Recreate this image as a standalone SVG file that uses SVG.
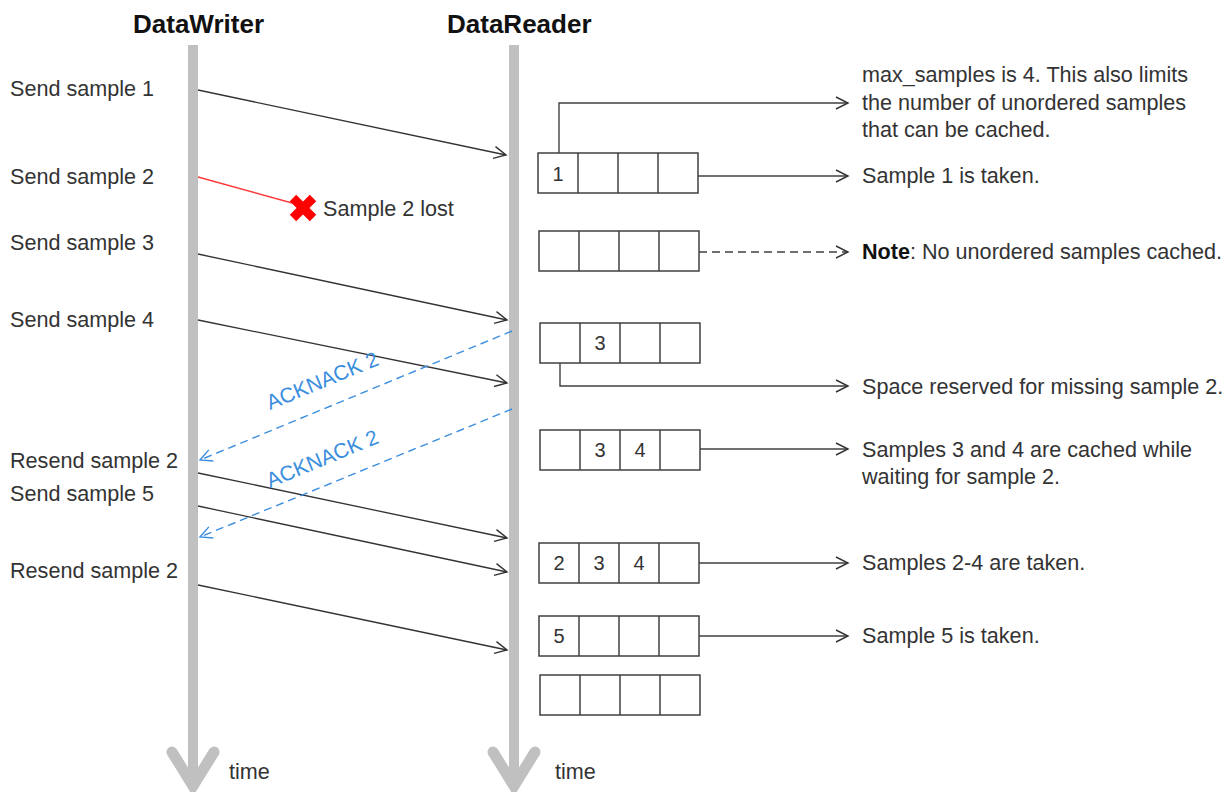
<svg xmlns="http://www.w3.org/2000/svg" width="1230" height="792" viewBox="0 0 1230 792">
<style>
text{font-family:"Liberation Sans",Arial,sans-serif;fill:#333;font-size:21.6px}
.title{font-weight:bold;font-size:26px;fill:#111}
.bar{stroke:#c0c0c0;stroke-width:10;fill:none}
.chev{stroke:#c0c0c0;stroke-width:11;fill:none;stroke-linecap:round;stroke-linejoin:miter}
.msg{stroke:#333;stroke-width:1.3;fill:none;marker-end:url(#ah)}
.ack{stroke:#3b8ede;stroke-width:1.4;fill:none;stroke-dasharray:8 5;marker-end:url(#ahb)}
.ackt{fill:#3b8ede;font-size:21px}
.cell{fill:#fff;stroke:#404040;stroke-width:1.5}
.link{stroke:#404040;stroke-width:1.4;fill:none;marker-end:url(#ah)}
.num{text-anchor:middle;font-size:20px}
</style>
<defs>
<marker id="ah" markerUnits="userSpaceOnUse" markerWidth="16" markerHeight="16" refX="13" refY="7" orient="auto" viewBox="0 0 16 14">
<path d="M1,1 L13,7 L1,13" fill="none" stroke="#333" stroke-width="1.4"/>
</marker>
<marker id="ahb" markerUnits="userSpaceOnUse" markerWidth="16" markerHeight="16" refX="13" refY="7" orient="auto" viewBox="0 0 16 14">
<path d="M1,1 L13,7 L1,13" fill="none" stroke="#3b8ede" stroke-width="1.4"/>
</marker>
<g id="buf">
<rect class="cell" x="0" y="0" width="160" height="40"/>
<line class="cell" x1="40" y1="0" x2="40" y2="40"/>
<line class="cell" x1="80" y1="0" x2="80" y2="40"/>
<line class="cell" x1="120" y1="0" x2="120" y2="40"/>
</g>
</defs>
<rect width="1230" height="792" fill="#fff"/>

<g id="writer">
<text class="title" x="133" y="33">DataWriter</text>
<line class="bar" x1="193" y1="45" x2="193" y2="786"/>
<polyline class="chev" points="172,752 193,786 214,752"/>
<text x="229" y="779">time</text>
</g>
<g id="reader">
<text class="title" x="447" y="33">DataReader</text>
<line class="bar" x1="514" y1="45" x2="514" y2="786"/>
<polyline class="chev" points="493,752 514,786 535,752"/>
<text x="555" y="779">time</text>
</g>

<g id="writer-labels">
<text x="10" y="96">Send sample 1</text>
<text x="10" y="184">Send sample 2</text>
<text x="10" y="250">Send sample 3</text>
<text x="10" y="327">Send sample 4</text>
<text x="10" y="468">Resend sample 2</text>
<text x="10" y="501">Send sample 5</text>
<text x="10" y="578">Resend sample 2</text>
</g>

<g id="lost">
<line x1="198" y1="177" x2="292" y2="203" stroke="#ff3a3a" stroke-width="1.3"/>
<g transform="translate(303,208)" stroke="#ff0000" stroke-width="9">
<line x1="-10" y1="-10" x2="10" y2="10"/>
<line x1="-10" y1="10" x2="10" y2="-10"/>
</g>
<text x="323" y="216">Sample 2 lost</text>
</g>

<g id="buffers">
<g id="buf1"><use href="#buf" x="538" y="153"/><text class="num" x="558" y="181">1</text></g>
<g id="buf2"><use href="#buf" x="539" y="231"/></g>
<g id="buf3"><use href="#buf" x="540" y="323"/><text class="num" x="600" y="350">3</text></g>
<g id="buf4"><use href="#buf" x="540" y="430"/><text class="num" x="600" y="457">3</text><text class="num" x="640" y="457">4</text></g>
<g id="buf5"><use href="#buf" x="539" y="543"/><text class="num" x="559" y="570">2</text><text class="num" x="599" y="570">3</text><text class="num" x="639" y="570">4</text></g>
<g id="buf6"><use href="#buf" x="539" y="616"/><text class="num" x="559" y="643">5</text></g>
<g id="buf7"><use href="#buf" x="540" y="675"/></g>
</g>

<g id="notes">
<text x="862" y="82">max_samples is 4. This also limits</text>
<text x="862" y="110">the number of unordered samples</text>
<text x="862" y="137">that can be cached.</text>
<text x="862" y="183">Sample 1 is taken.</text>
<text x="862" y="259"><tspan font-weight="bold" fill="#111">Note</tspan>: No unordered samples cached.</text>
<text x="862" y="394">Space reserved for missing sample 2.</text>
<text x="862" y="457">Samples 3 and 4 are cached while</text>
<text x="862" y="484">waiting for sample 2.</text>
<text x="862" y="570">Samples 2-4 are taken.</text>
<text x="862" y="643">Sample 5 is taken.</text>
</g>

<g id="connectors">
<line class="msg" x1="198" y1="90" x2="506" y2="155"/>
<line class="msg" x1="198" y1="254" x2="507" y2="320"/>
<line class="msg" x1="198" y1="320" x2="507" y2="383"/>
<line class="msg" x1="198" y1="473" x2="507" y2="538"/>
<line class="msg" x1="198" y1="506" x2="507" y2="572"/>
<line class="msg" x1="198" y1="585" x2="507" y2="650"/>
<line class="ack" x1="512" y1="331" x2="200" y2="460"/>
<line class="ack" x1="512" y1="409" x2="200" y2="537"/>
<polyline class="link" points="559,153 559,103 848,103"/>
<line class="link" x1="698" y1="176" x2="848" y2="176"/>
<line class="link" x1="699" y1="252" x2="848" y2="252" stroke-dasharray="8 5"/>
<polyline class="link" points="560,363 560,386 848,386"/>
<line class="link" x1="700" y1="449" x2="848" y2="449"/>
<line class="link" x1="699" y1="563" x2="848" y2="563"/>
<line class="link" x1="699" y1="636" x2="848" y2="636"/>
<text class="ackt" transform="translate(270,410) rotate(-22.5)">ACKNACK 2</text>
<text class="ackt" transform="translate(270,488) rotate(-22.5)">ACKNACK 2</text>
</g>
</svg>
